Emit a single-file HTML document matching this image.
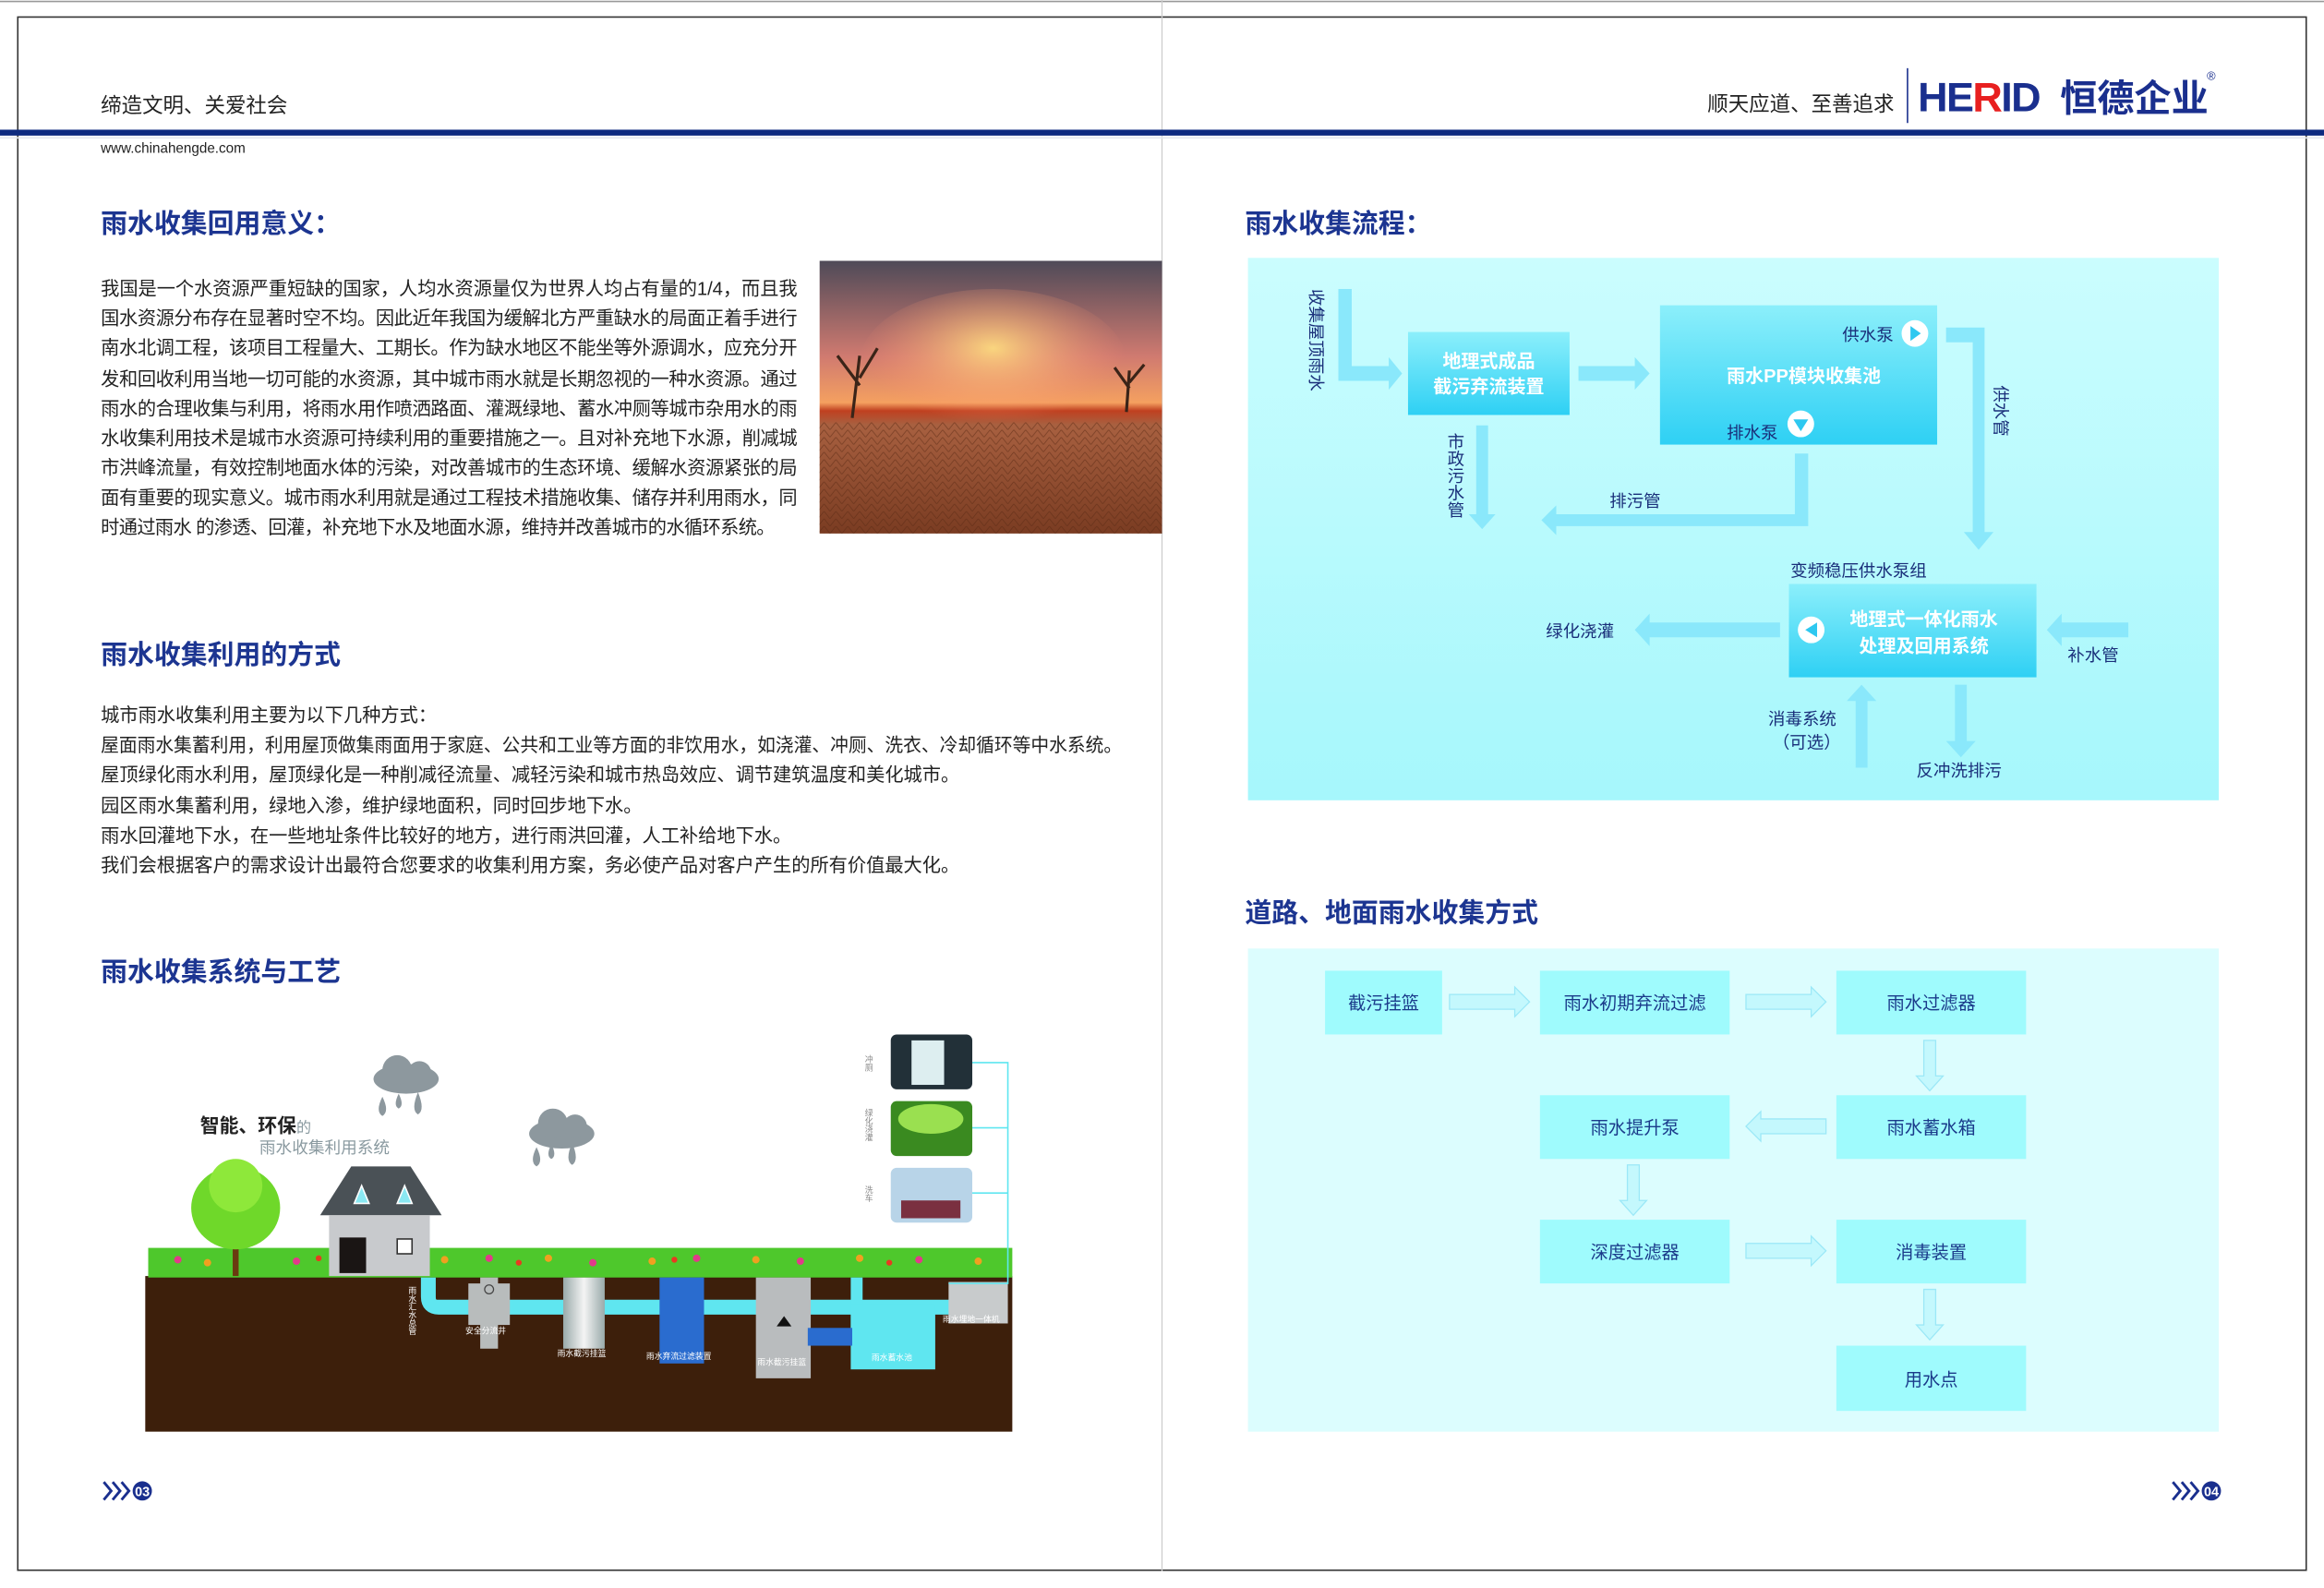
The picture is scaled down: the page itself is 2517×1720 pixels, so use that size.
<!DOCTYPE html>
<html><head><meta charset="utf-8">
<style>
html,body{margin:0;padding:0;background:#fff;width:2517px;height:1720px;overflow:hidden}
svg{display:block}
text{font-family:"Liberation Sans","Noto Sans CJK SC",sans-serif}
.t{font-size:18px;font-weight:bold;fill:#1c3591}
.b{font-size:12.6px;fill:#222}
.w{font-size:12.5px;font-weight:bold;fill:#fff}
.d{font-size:11.5px;fill:#1a2f7a}
.f{font-size:12px;fill:#1a3a8a}
.s{font-size:5.5px;fill:#fff}
</style></head><body>
<svg width="2517" height="1720" viewBox="0 0 1568 1071.5" xmlns="http://www.w3.org/2000/svg">
<defs>
<linearGradient id="pan" x1="0" y1="0" x2="0" y2="1"><stop offset="0" stop-color="#cbfdfe"/><stop offset="1" stop-color="#a6f7fc"/></linearGradient>
<linearGradient id="box" x1="0" y1="0" x2="0" y2="1"><stop offset="0" stop-color="#8ceffb"/><stop offset="1" stop-color="#2ed0f4"/></linearGradient>
<linearGradient id="sky" x1="0" y1="0" x2="0" y2="1"><stop offset="0" stop-color="#4e4a58"/><stop offset="0.35" stop-color="#d07a70"/><stop offset="0.52" stop-color="#f4a060"/><stop offset="0.55" stop-color="#c04020"/><stop offset="0.6" stop-color="#a86040"/><stop offset="1" stop-color="#7a3c22"/></linearGradient>
<radialGradient id="sun" cx="0.5" cy="0.4" r="0.5"><stop offset="0" stop-color="#ffe080" stop-opacity="0.9"/><stop offset="1" stop-color="#ff9070" stop-opacity="0"/></radialGradient>
<linearGradient id="cyl" x1="0" y1="0" x2="1" y2="0"><stop offset="0" stop-color="#9aa"/><stop offset="0.5" stop-color="#f4f4f4"/><stop offset="1" stop-color="#9aa"/></linearGradient>
<pattern id="crack" width="8" height="5" patternUnits="userSpaceOnUse"><path d="M0 5 L4 0 L8 5" stroke="#5a2a14" stroke-width="0.5" fill="none" opacity="0.6"/></pattern>
</defs>
<!-- frame -->
<line x1="0" y1="1" x2="1568" y2="1" stroke="#999" stroke-width="1"/>
<rect x="12" y="11.5" width="1544" height="1048" fill="none" stroke="#333" stroke-width="1"/>
<line x1="784" y1="0" x2="784" y2="1060" stroke="#ccc" stroke-width="0.8"/>
<rect x="0" y="87.5" width="1568" height="4" fill="#0d2a7f"/>
<line x1="0" y1="93" x2="1568" y2="93" stroke="#e4e8ee" stroke-width="1"/>
<text x="68" y="76" style="font-size:14px;fill:#222">缔造文明、关爱社会</text>
<text x="68" y="103" style="font-size:9.5px;fill:#222">www.chinahengde.com</text>
<text x="1152" y="75" style="font-size:14px;fill:#222">顺天应道、至善追求</text>
<line x1="1287" y1="46" x2="1287" y2="83" stroke="#1a2f8e" stroke-width="1"/>
<text x="1294" y="75" style="font-size:28px;font-weight:bold;fill:#1a2f8e;letter-spacing:-1px">HE<tspan fill="#e82020">R</tspan>ID</text>
<text x="1390" y="75" style="font-size:25px;font-weight:bold;fill:#1a2f8e">恒德企业</text>
<text x="1489" y="54" style="font-size:8px;fill:#1a2f8e">®</text>

<!-- left page -->
<text x="68" y="157" class="t">雨水收集回用意义：</text>
<g class="b">
<text x="68" y="199" textLength="470" lengthAdjust="spacing">我国是一个水资源严重短缺的国家，人均水资源量仅为世界人均占有量的1/4，而且我</text>
<text x="68" y="219" textLength="470" lengthAdjust="spacing">国水资源分布存在显著时空不均。因此近年我国为缓解北方严重缺水的局面正着手进行</text>
<text x="68" y="239" textLength="470" lengthAdjust="spacing">南水北调工程，该项目工程量大、工期长。作为缺水地区不能坐等外源调水，应充分开</text>
<text x="68" y="260" textLength="470" lengthAdjust="spacing">发和回收利用当地一切可能的水资源，其中城市雨水就是长期忽视的一种水资源。通过</text>
<text x="68" y="280" textLength="470" lengthAdjust="spacing">雨水的合理收集与利用，将雨水用作喷洒路面、灌溉绿地、蓄水冲厕等城市杂用水的雨</text>
<text x="68" y="300" textLength="470" lengthAdjust="spacing">水收集利用技术是城市水资源可持续利用的重要措施之一。且对补充地下水源，削减城</text>
<text x="68" y="320" textLength="470" lengthAdjust="spacing">市洪峰流量，有效控制地面水体的污染，对改善城市的生态环境、缓解水资源紧张的局</text>
<text x="68" y="340" textLength="470" lengthAdjust="spacing">面有重要的现实意义。城市雨水利用就是通过工程技术措施收集、储存并利用雨水，同</text>
<text x="68" y="360" textLength="455" lengthAdjust="spacing">时通过雨水 的渗透、回灌，补充地下水及地面水源，维持并改善城市的水循环系统。</text>
</g>
<rect x="553" y="176" width="231" height="184" fill="url(#sky)"/>
<ellipse cx="670" cy="245" rx="90" ry="50" fill="url(#sun)"/>
<rect x="553" y="285" width="231" height="75" fill="url(#crack)"/>
<path d="M575 282 L580 240 M580 260 L565 240 M580 255 L592 235 M760 278 L762 250 M762 262 L752 248 M762 258 L772 246" stroke="#3a2418" stroke-width="2" fill="none"/>

<text x="68" y="448" class="t">雨水收集利用的方式</text>
<g class="b">
<text x="68" y="487">城市雨水收集利用主要为以下几种方式：</text>
<text x="68" y="507" textLength="689" lengthAdjust="spacingAndGlyphs">屋面雨水集蓄利用，利用屋顶做集雨面用于家庭、公共和工业等方面的非饮用水，如浇灌、冲厕、洗衣、冷却循环等中水系统。</text>
<text x="68" y="527">屋顶绿化雨水利用，屋顶绿化是一种削减径流量、减轻污染和城市热岛效应、调节建筑温度和美化城市。</text>
<text x="68" y="548">园区雨水集蓄利用，绿地入渗，维护绿地面积，同时回步地下水。</text>
<text x="68" y="568">雨水回灌地下水，在一些地址条件比较好的地方，进行雨洪回灌，人工补给地下水。</text>
<text x="68" y="588">我们会根据客户的需求设计出最符合您要求的收集利用方案，务必使产品对客户产生的所有价值最大化。</text>
</g>
<text x="68" y="662" class="t">雨水收集系统与工艺</text>

<!-- illustration -->
<rect x="98" y="861" width="585" height="105" fill="#3d1f0b"/>
<rect x="100" y="842" width="583" height="20" fill="#4ec82c"/>
<g fill="#e23a8a"><circle cx="120" cy="850" r="2.5"/><circle cx="200" cy="851" r="2.5"/><circle cx="330" cy="849" r="2.5"/><circle cx="400" cy="852" r="2.5"/><circle cx="470" cy="849" r="2.5"/><circle cx="540" cy="851" r="2.5"/><circle cx="620" cy="850" r="2.5"/></g>
<g fill="#f0a020"><circle cx="140" cy="852" r="2.5"/><circle cx="300" cy="850" r="2.5"/><circle cx="370" cy="849" r="2.5"/><circle cx="440" cy="851" r="2.5"/><circle cx="510" cy="850" r="2.5"/><circle cx="580" cy="849" r="2.5"/><circle cx="660" cy="851" r="2.5"/></g>
<g fill="#e83a20"><circle cx="215" cy="849" r="2"/><circle cx="350" cy="852" r="2"/><circle cx="455" cy="850" r="2"/><circle cx="600" cy="852" r="2"/></g>
<rect x="157" y="825" width="4" height="36" fill="#6a3a10"/>
<ellipse cx="159" cy="815" rx="30" ry="28" fill="#6fd82a"/>
<ellipse cx="159" cy="800" rx="18" ry="18" fill="#8ee83a"/>
<polygon points="216,820 237,787 277,787 298,820" fill="#4a5156"/>
<polygon points="239,812 244,800 249,812" fill="#8ae8f2" stroke="#fff"/>
<polygon points="268,812 273,800 278,812" fill="#8ae8f2" stroke="#fff"/>
<rect x="222" y="820" width="68" height="41" fill="#c8cacd"/>
<rect x="229" y="835" width="18" height="24" fill="#1a1514"/>
<rect x="268" y="836" width="10" height="10" fill="#fff" stroke="#333" stroke-width="1"/>
<g fill="#8d989e">
<ellipse cx="274" cy="728" rx="22" ry="10"/><circle cx="268" cy="722" r="10"/><circle cx="283" cy="724" r="8"/>
<path d="M258 740 q-5 10 0 13 q5-3 0-13z M269 738 q-4 8 0 10 q4-2 0-10z M282 737 q-5 12 0 15 q5-3 0-15z"/>
<ellipse cx="379" cy="765" rx="22" ry="10"/><circle cx="373" cy="758" r="10"/><circle cx="388" cy="760" r="8"/>
<path d="M362 774 q-5 10 0 13 q5-3 0-13z M372 772 q-4 8 0 10 q4-2 0-10z M386 771 q-5 12 0 15 q5-3 0-15z"/>
</g>
<text x="135" y="764" style="font-size:13px;font-weight:bold;fill:#222">智能、环保<tspan style="font-size:10px;font-weight:normal;fill:#8a9aa0">的</tspan></text>
<text x="175" y="778" style="font-size:11px;fill:#8a9aa0">雨水收集利用系统</text>
<path d="M289 862 v13 q0 7 7 7 h345" stroke="#5fe6f0" stroke-width="10" fill="none"/>
<rect x="316" y="866" width="28" height="28" fill="#b8bcbc"/><rect x="324" y="862" width="12" height="48" fill="#b8bcbc"/>
<circle cx="330" cy="870" r="3" fill="none" stroke="#444" stroke-width="0.8"/>
<rect x="380" y="862" width="28" height="48" fill="url(#cyl)"/>
<rect x="445" y="862" width="30" height="58" fill="#2a6ccf"/>
<rect x="510" y="862" width="37" height="68" fill="#b9bcbe"/>
<polygon points="524,895 529,888 534,895" fill="#111"/>
<rect x="574" y="862" width="8" height="42" fill="#5fe6f0"/><rect x="574" y="880" width="57" height="44" fill="#5fe6f0"/>
<rect x="545" y="896" width="30" height="12" fill="#2a6ccf"/>
<rect x="640" y="865" width="40" height="28" fill="#c8cbcc"/>
<text x="314" y="900" class="s">安全分流井</text><text x="376" y="915" class="s">雨水截污挂篮</text><text x="436" y="917" class="s">雨水弃流过滤装置</text><text x="511" y="921" class="s">雨水截污挂篮</text><text x="588" y="918" class="s">雨水蓄水池</text><text x="636" y="892" class="s">雨水埋地一体机</text>
<text x="278" y="868" class="s" style="writing-mode:tb">雨水汇水总管</text>
<polyline points="655,717 680,717 680,866 640,866" stroke="#5fe6f0" stroke-width="1" fill="none"/>
<line x1="655" y1="761" x2="680" y2="761" stroke="#5fe6f0" stroke-width="1"/>
<line x1="655" y1="805" x2="680" y2="805" stroke="#5fe6f0" stroke-width="1"/>
<rect x="601" y="698" width="55" height="37" rx="4" fill="#223038"/><rect x="615" y="702" width="22" height="30" fill="#ddeef0"/>
<rect x="601" y="743" width="55" height="37" rx="4" fill="#3a8a20"/><ellipse cx="628" cy="755" rx="22" ry="10" fill="#9ae050"/>
<rect x="601" y="788" width="55" height="37" rx="4" fill="#b8d4e8"/><rect x="608" y="810" width="40" height="12" fill="#7a3040"/>
<text x="586" y="712" style="font-size:5.5px;fill:#888;writing-mode:tb">冲厕</text>
<text x="586" y="748" style="font-size:5.5px;fill:#888;writing-mode:tb">绿化浇灌</text>
<text x="586" y="800" style="font-size:5.5px;fill:#888;writing-mode:tb">洗车</text>

<!-- page numbers -->
<g fill="none" stroke="#1a2f8e" stroke-width="1.8"><path d="M70 1000 l5 6 l-5 6 M76 1000 l5 6 l-5 6 M82 1000 l5 6 l-5 6"/><path d="M1466 1000 l5 6 l-5 6 M1472 1000 l5 6 l-5 6 M1478 1000 l5 6 l-5 6"/></g>
<circle cx="96" cy="1006" r="6.5" fill="#1a2f8e"/><text x="96" y="1009.5" text-anchor="middle" style="font-size:9px;font-weight:bold;fill:#fff">03</text>
<circle cx="1492" cy="1006" r="6.5" fill="#1a2f8e"/><text x="1492" y="1009.5" text-anchor="middle" style="font-size:9px;font-weight:bold;fill:#fff">04</text>

<!-- right page: flow 1 -->
<text x="840" y="157" class="t">雨水收集流程：</text>
<rect x="842" y="174" width="655" height="366" fill="url(#pan)"/>
<g fill="#8ae8fb">
<path d="M903 195 h9 v52 h25 v-6 l9 11 l-9 11 v-6 h-34z"/>
<path d="M1065 247 h38 v-6 l10 11 l-10 11 v-6 h-38z"/>
<path d="M1313 221 h26 v138 h6 l-10 12 l-10 -12 h6 v-128 h-18z"/>
<path d="M996 287 h8 v60 h5 l-9 10 l-9 -10 h5z"/>
<path d="M1211 306 h9 v49 h-170 v6 l-10 -10 l10 -10 v6 h161z"/>
<path d="M1201 420 v10 h-88 v6 l-10 -11 l10 -11 v6z"/>
<path d="M1436 420 v10 h-45 v6 l-10 -11 l10 -11 v6z"/>
<path d="M1252 518 v-45 h-6 l10 -11 l10 11 h-6 v45z"/>
<path d="M1319 462 h8 v38 h6 l-10 11 l-10 -11 h6z"/>
</g>
<text x="884" y="195" class="d" transform="rotate(90 884 195)">收集屋顶雨水</text>
<rect x="950" y="224" width="109" height="56" fill="url(#box)"/>
<text x="1004.5" y="248" text-anchor="middle" class="w">地理式成品</text>
<text x="1004.5" y="265" text-anchor="middle" class="w">截污弃流装置</text>
<rect x="1120" y="206" width="187" height="94" fill="url(#box)"/>
<text x="1217" y="258" text-anchor="middle" class="w">雨水PP模块收集池</text>
<text x="1243" y="230" class="d">供水泵</text>
<circle cx="1292" cy="225" r="9" fill="#fff"/><polygon points="1289,220 1296,225 1289,230" fill="#2ec8f0"/>
<text x="1165" y="296" class="d">排水泵</text>
<circle cx="1215" cy="286" r="9" fill="#fff"/><polygon points="1210,283 1220,283 1215,291" fill="#2ec8f0"/>
<text x="982" y="292" class="d" style="writing-mode:tb">市政污水管</text>
<text x="1086" y="342" class="d">排污管</text>
<text x="1346" y="260" class="d" transform="rotate(90 1346 260)">供水管</text>
<text x="1208" y="389" class="d">变频稳压供水泵组</text>
<rect x="1207" y="394" width="167" height="63" fill="url(#box)"/>
<text x="1298" y="422" text-anchor="middle" class="w">地理式一体化雨水</text>
<text x="1298" y="440" text-anchor="middle" class="w">处理及回用系统</text>
<circle cx="1222" cy="425" r="9" fill="#fff"/><polygon points="1226,420 1218,425 1226,430" fill="#2ec8f0"/>
<text x="1043" y="430" class="d">绿化浇灌</text>
<text x="1395" y="446" class="d">补水管</text>
<text x="1193" y="489" class="d">消毒系统</text>
<text x="1196" y="505" class="d">（可选）</text>
<text x="1293" y="524" class="d">反冲洗排污</text>

<!-- flow 2 -->
<text x="840" y="622" class="t">道路、地面雨水收集方式</text>
<rect x="842" y="640" width="655" height="326" fill="#dcfdfe"/>
<g fill="#9ffbfd">
<rect x="894" y="655" width="79" height="43"/>
<rect x="1039" y="655" width="128" height="43"/>
<rect x="1239" y="655" width="128" height="43"/>
<rect x="1039" y="739" width="128" height="43"/>
<rect x="1239" y="739" width="128" height="43"/>
<rect x="1039" y="823" width="128" height="43"/>
<rect x="1239" y="823" width="128" height="43"/>
<rect x="1239" y="908" width="128" height="44"/>
</g>
<g fill="#c4f8fd" stroke="#9be8f7" stroke-width="0.8">
<path d="M978 671 h44 v-5 l10 10 l-10 10 v-5 h-44z"/>
<path d="M1178 671 h44 v-5 l10 10 l-10 10 v-5 h-44z"/>
<path d="M1178 839 h44 v-5 l10 10 l-10 10 v-5 h-44z"/>
<path d="M1232 755 h-44 v-5 l-10 10 l10 10 v-5 h44z"/>
<path d="M1298 702 h8 v24 h5 l-9 10 l-9 -10 h5z"/>
<path d="M1098 786 h8 v24 h5 l-9 10 l-9 -10 h5z"/>
<path d="M1298 870 h8 v24 h5 l-9 10 l-9 -10 h5z"/>
</g>
<g class="f" text-anchor="middle">
<text x="933.5" y="681">截污挂篮</text>
<text x="1103" y="681">雨水初期弃流过滤</text>
<text x="1303" y="681">雨水过滤器</text>
<text x="1103" y="765">雨水提升泵</text>
<text x="1303" y="765">雨水蓄水箱</text>
<text x="1103" y="849">深度过滤器</text>
<text x="1303" y="849">消毒装置</text>
<text x="1303" y="935">用水点</text>
</g>
</svg>
</body></html>
